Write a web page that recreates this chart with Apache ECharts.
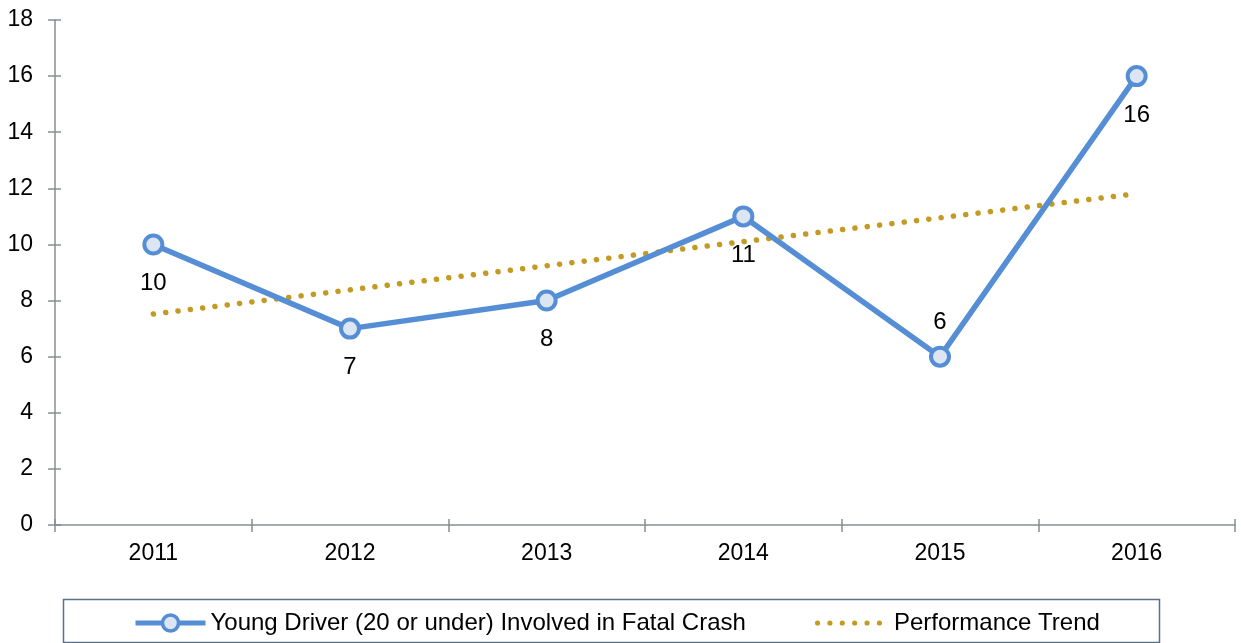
<!DOCTYPE html>
<html>
<head>
<meta charset="utf-8">
<script src="https://cdn.jsdelivr.net/npm/echarts@6/dist/echarts.min.js"></script>
<style>
  html, body { margin: 0; padding: 0; background: #fff; }
  #chart { width: 1241px; height: 643px; }
</style>
</head>
<body>
<div id="chart"></div>
<script>
const years = ['2011', '2012', '2013', '2014', '2015', '2016'];
const youngDriver = [10, 7, 8, 11, 6, 16];
// trend line values
const trend = [7.52, 8.38, 9.24, 10.1, 10.95, 11.81];
// label above or below each point
const labelPos = ['bottom', 'bottom', 'bottom', 'bottom', 'top', 'bottom'];

const axisColor = '#868e93';
const blue = '#558ed5';
const gold = '#c39b22';
const font = 'Liberation Sans, Arial, sans-serif';
const nameYoung = 'Young Driver (20 or under) Involved in Fatal Crash';
const nameTrend = 'Performance Trend';

// six dots for the trend legend icon
const dotsPath = 'path://' + [0, 1, 2, 3, 4, 5].map(i => {
  const cx = 2.5 + i * 12;
  return 'M' + (cx - 2.5) + ' 2.5a2.5 2.5 0 1 0 5 0a2.5 2.5 0 1 0 -5 0z';
}).join('');

const chart = echarts.init(document.getElementById('chart'));

const option = {
  animation: false,
  textStyle: { fontFamily: font },
  grid: { left: 55, right: 6, top: 20, bottom: 118, containLabel: false },
  graphic: [{
    type: 'rect',
    shape: { x: 63.5, y: 599.5, width: 1096, height: 43 },
    style: { fill: 'none', stroke: '#5b6f86', lineWidth: 1.5 },
    silent: true
  }],
  legend: [{
    left: 128,
    top: 606,
    itemWidth: 70,
    itemHeight: 20,
    textStyle: { fontSize: 24, color: '#000', fontFamily: font },
    data: [{
      name: nameYoung,
      lineStyle: { width: 5 },
      itemStyle: { borderWidth: 3.5 }
    }]
  }, {
    left: 810,
    top: 606,
    itemWidth: 67,
    itemHeight: 20,
    textStyle: { fontSize: 24, color: '#000', fontFamily: font, padding: [0, 0, 0, 7] },
    data: [{ name: nameTrend, icon: dotsPath, itemStyle: { color: gold } }]
  }],
  xAxis: [{
    type: 'category',
    data: years,
    boundaryGap: true,
    axisLine: { lineStyle: { color: axisColor, width: 1.5 } },
    axisTick: { show: true, length: 7, lineStyle: { color: axisColor, width: 1.5 } },
    axisLabel: { color: '#000', fontSize: 23, margin: 17, fontFamily: font }
  }, {
    type: 'category',
    data: years,
    position: 'bottom',
    boundaryGap: true,
    axisLine: { show: false },
    axisTick: { show: true, inside: true, length: 6, lineStyle: { color: axisColor, width: 1.5 } },
    axisLabel: { show: false }
  }],
  yAxis: [{
    type: 'value',
    min: 0,
    max: 18,
    interval: 2,
    splitLine: { show: false },
    axisLine: { show: true, lineStyle: { color: axisColor, width: 1.5 } },
    axisTick: { show: true, length: 7, lineStyle: { color: axisColor, width: 1.5 } },
    axisLabel: { color: '#000', fontSize: 23, margin: 22, fontFamily: font }
  }, {
    type: 'value',
    min: 0,
    max: 18,
    interval: 2,
    position: 'left',
    splitLine: { show: false },
    axisLine: { show: false },
    axisTick: { show: true, inside: true, length: 6, lineStyle: { color: axisColor, width: 1.5 } },
    axisLabel: { show: false }
  }],
  series: [{
    name: nameTrend,
    type: 'line',
    data: trend,
    symbol: 'none',
    z: 2,
    lineStyle: { color: gold, width: 5.5, type: [0.1, 12.3], cap: 'round' },
    itemStyle: { color: gold }
  }, {
    name: nameYoung,
    type: 'line',
    z: 3,
    data: youngDriver.map((v, i) => ({
      value: v,
      label: { position: labelPos[i], distance: labelPos[i] === 'top' ? 11 : 16 }
    })),
    symbol: 'circle',
    symbolSize: 18,
    lineStyle: { color: blue, width: 5.5 },
    itemStyle: { color: '#dce6f2', borderColor: blue, borderWidth: 4 },
    label: {
      show: true,
      fontSize: 24,
      color: '#000',
      fontFamily: font
    }
  }]
};

chart.setOption(option);
</script>
</body>
</html>
